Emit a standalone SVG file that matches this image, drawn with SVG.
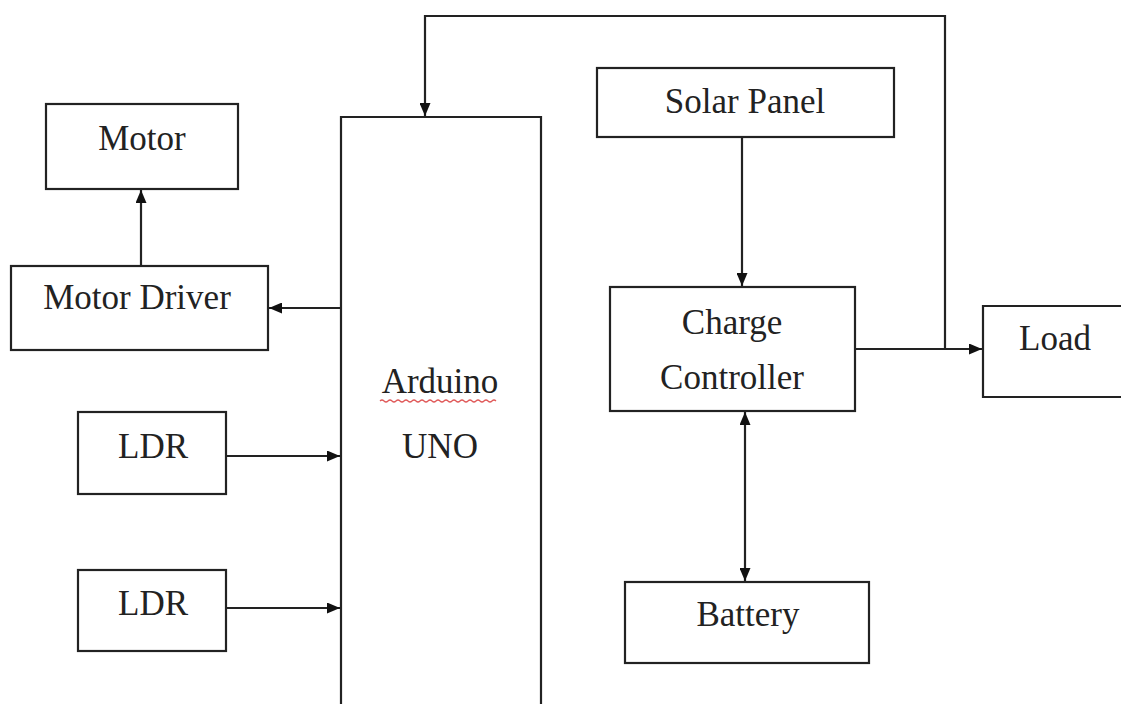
<svg xmlns="http://www.w3.org/2000/svg" width="1121" height="704" viewBox="0 0 1121 704">
<defs>
<style>
.box{fill:#fff;stroke:#222;stroke-width:2.2}
.t{font-family:"Liberation Serif","Times New Roman",serif;font-size:35px;fill:#222;text-anchor:middle}
.c{fill:none;stroke:#222;stroke-width:2.2}
</style>
<marker id="ah" viewBox="0 0 13 11" refX="13" refY="5.5" markerWidth="13" markerHeight="11" markerUnits="userSpaceOnUse" orient="auto-start-reverse">
<path d="M0,0 L13,5.5 L0,11 z" fill="#111"/>
</marker>
</defs>
<rect width="1121" height="704" fill="#fff"/>
<g id="connectors">
<path class="c" d="M141,266 V190" marker-end="url(#ah)"/>
<path class="c" d="M341,308 H269" marker-end="url(#ah)"/>
<path class="c" d="M226,456 H340" marker-end="url(#ah)"/>
<path class="c" d="M226,608 H340" marker-end="url(#ah)"/>
<path class="c" d="M945,349 V16 H425 V116" marker-end="url(#ah)"/>
<path class="c" d="M742,137 V286" marker-end="url(#ah)"/>
<path class="c" d="M855,349 H982" marker-end="url(#ah)"/>
<path class="c" d="M745,412 V581" marker-start="url(#ah)" marker-end="url(#ah)"/>
</g>
<g id="motor"><rect class="box" x="46" y="104" width="192" height="85"/><text class="t" x="142" y="150">Motor</text></g>
<g id="motor-driver"><rect class="box" x="11" y="266" width="257" height="84"/><text class="t" x="137" y="309">Motor Driver</text></g>
<g id="ldr1"><rect class="box" x="78" y="412" width="148" height="82"/><text class="t" x="153" y="458">LDR</text></g>
<g id="ldr2"><rect class="box" x="78" y="570" width="148" height="81"/><text class="t" x="153" y="615">LDR</text></g>
<g id="arduino"><path class="box" d="M341,710 V117 H541 V710"/><text class="t" x="440" y="393">Arduino</text><path d="M380,401 q2,-2 4,0 t4,0 t4,0 t4,0 t4,0 t4,0 t4,0 t4,0 t4,0 t4,0 t4,0 t4,0 t4,0 t4,0 t4,0 t4,0 t4,0 t4,0 t4,0 t4,0 t4,0 t4,0 t4,0 t4,0 t4,0 t4,0 t4,0 t4,0 t4,0" fill="none" stroke="#e05a5a" stroke-width="1.2"/><text class="t" x="440" y="458">UNO</text></g>
<g id="solar-panel"><rect class="box" x="597" y="68" width="297" height="69"/><text class="t" x="745" y="113">Solar Panel</text></g>
<g id="charge-controller"><rect class="box" x="610" y="287" width="245" height="124"/><text class="t" x="732" y="334">Charge</text><text class="t" x="732" y="389">Controller</text></g>
<g id="load"><path class="box" d="M1125,306 H983 V397 H1125"/><text class="t" x="1055" y="350">Load</text></g>
<g id="battery"><rect class="box" x="625" y="582" width="244" height="81"/><text class="t" x="748" y="626">Battery</text></g>
</svg>
